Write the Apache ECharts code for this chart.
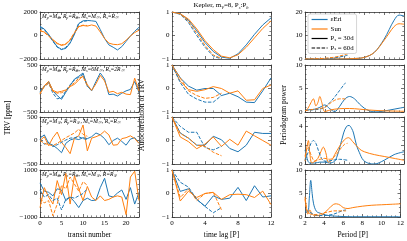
<!DOCTYPE html>
<html><head><meta charset="utf-8">
<script src="https://cdn.jsdelivr.net/npm/echarts@6/dist/echarts.min.js"></script>
<style>html,body{margin:0;padding:0;background:#fff}#c{width:407px;height:241px}</style>
</head><body><div id="c"></div>
<script>
// ---------- data ----------
const transits30 = [0,1,2,3,4,5,6,7,8,9,10,11,12,13,14,15,16,17,18,19,20,21,22,23];
const transits60 = [0,1,2,3,4,5,6,7,8,9,10,11];
const lags30 = [0,1,2,3,4,5,6,7,8,9,10,11,12];
const lags60 = [0,1,2,3,4,5,6];

// column 1: TRV [ppm]
const trv_r1_blue_30 = [780,550,100,-450,-950,-1180,-1100,-650,100,1000,1250,1280,1250,1200,500,-250,-800,-1000,-1230,-950,-500,-50,350,700];
const trv_r1_orange_30 = [400,300,0,-350,-650,-850,-750,-400,200,750,850,800,900,800,300,-250,-650,-750,-780,-700,-400,-50,250,450];
const trv_r1_blue_60 = [700,500,50,-500,-1000,-1200,-1000,-600,150,1050,1200,1250];
const trv_r1_orange_60 = [450,250,-50,-400,-700,-800,-700,-350,250,800,880,850];

const trv_r2_blue_30 = [-60,50,150,-50,-150,-230,-80,60,200,260,330,50,-50,150,330,200,-130,-120,-160,-100,-50,-20,150,-80];
const trv_r2_orange_30 = [-120,60,150,-40,-80,-60,-30,40,90,180,270,80,-40,100,280,160,-80,-60,-110,-80,-120,-130,220,-60];
const trv_r2_blue_60 = [-80,40,120,-100,-220,-200,-50,80,180,240,300,40];
const trv_r2_orange_60 = [-100,40,110,-60,-100,-90,-50,60,120,220,250,60];

const trv_r3_blue_30 = [50,120,-60,-100,-170,-260,-60,10,40,20,60,40,80,160,120,40,-90,0,50,-20,-100,30,60,-60];
const trv_r3_orange_30 = [0,80,-110,60,180,-40,-150,-280,50,100,330,-220,50,80,120,200,120,-100,-90,40,60,100,40,-60];
const trv_r3_blue_60 = [20,-80,-40,-130,-90,-40,10,50,60,80,40,20];
const trv_r3_orange_60 = [0,-60,-90,-110,-60,0,60,110,160,240,130,90];

const trv_r4_blue_30 = [450,100,50,-100,200,150,-300,-150,-350,-600,-300,-200,-300,-280,250,650,-100,-150,20,150,-250,250,-450,50];
const trv_r4_orange_30 = [-600,250,-150,-450,550,-50,850,-450,750,200,-300,300,-150,-300,-100,-300,-250,-150,-100,-150,-900,700,950,-300];
const trv_r4_blue_60 = [150,-150,-50,-300,-200,-700,-250,-150,-200,-100,0,200];
const trv_r4_orange_60 = [-200,-400,-300,-950,-450,350,200,700,400,100,500,350];

// column 2: autocorrelation
const acf_r1_blue_30 = [1,0.93,0.65,0.2,-0.3,-0.68,-0.92,-0.97,-0.78,-0.4,0.05,0.45,0.75];
const acf_r1_orange_30 = [1,0.92,0.7,0.28,-0.22,-0.6,-0.88,-0.95,-0.82,-0.5,-0.1,0.3,0.62];
const acf_r1_blue_60 = [1,0.9,0.55,0.0,-0.5,-0.88,-1.0];
const acf_r1_orange_60 = [1,0.92,0.6,0.1,-0.42,-0.83,-0.98];

const acf_r2_blue_30 = [1,0.45,0.1,-0.07,0.0,0.0,-0.3,-0.2,-0.35,-0.58,-0.6,-0.1,0.45];
const acf_r2_orange_30 = [1,0.3,-0.05,-0.12,-0.05,0.08,0.0,-0.2,-0.1,-0.5,-0.48,0.0,0.15];
const acf_r2_blue_60 = [1,0.25,-0.25,-0.45,-0.58,-0.58,-0.3];
const acf_r2_orange_60 = [1,0.45,-0.1,-0.3,-0.42,-0.38,-0.2];

const acf_r3_blue_30 = [1,0.32,0.1,-0.2,-0.2,0.18,0.03,-0.34,-0.48,-0.2,0.35,0.3,0.3];
const acf_r3_orange_30 = [1,0.15,-0.05,-0.35,-0.15,0.15,-0.25,0.05,-0.2,0.4,0.2,0.0,-0.2];
const acf_r3_blue_60 = [1,0.6,0.35,0.35,-0.3,-0.4,-0.25];
const acf_r3_orange_60 = [1,0.3,0.1,-0.2,-0.25,-0.5,-0.65];

const acf_r4_blue_30 = [1,0.09,0.2,-0.25,-0.54,-0.1,-0.25,-0.2,0.26,-0.3,0.33,-0.15,-0.1];
const acf_r4_orange_30 = [1,-0.32,0.1,-0.17,0.0,0.05,-0.25,-0.05,-0.03,-0.05,-0.17,0.1,-0.47];
const acf_r4_blue_60 = [1,0.48,0.27,-0.25,-0.55,-0.82,-0.6];
const acf_r4_orange_60 = [1,-0.17,0.2,-0.3,0.0,0.05,-0.7];

// column 3: periodogram (period [P], power)
const pg_r1_blue_30_P = [2,3,4,5,6,7,8,9,10,10.5,11,11.5,12];
const pg_r1_blue_30 = [0,0,0,0,0.05,0.2,0.7,2.8,8.5,12.5,16.5,18.7,18.3];
const pg_r1_orange_30_P = [2,3,4,5,6,7,8,9,10,10.5,11,11.5,12];
const pg_r1_orange_30 = [0,0,0,0,0.05,0.2,0.7,2.8,8,11,13.8,15,14.8];
const pg_r1_blue_60_P = [2,3,4,5,6,6.3];
const pg_r1_blue_60 = [0,0.05,0.2,0.5,1.3,1.6];
const pg_r1_orange_60_P = [2,3,4,5,6,6.3];
const pg_r1_orange_60 = [0,0.1,0.3,0.8,1.8,2.2];

const pg_r2_blue_30_P = [2,2.5,3,3.5,4,4.5,5,5.5,6,6.5,7,7.5,8,8.5,9,9.5,10,10.5,11,11.5,12];
const pg_r2_blue_30 = [0.4,0.5,0.6,1.0,1.5,0.7,0.1,1.2,2.7,3.3,2.8,1.7,0.8,0.25,0.02,0.05,0.2,0.4,0.6,0.8,1.0];
const pg_r2_orange_30_P = [2,2.3,2.6,2.85,3.1,3.3,3.5,3.7,4.0,4.5,5,6,7,8,9,10,11,12];
const pg_r2_orange_30 = [0.2,0.8,2.0,2.8,1.3,2.0,3.3,2.0,0.1,0.4,0.6,0.75,0.7,0.5,0.35,0.25,0.2,0.15];
const pg_r2_blue_60_P = [2,2.5,3,3.5,4,4.5,5,5.5,6,6.1];
const pg_r2_blue_60 = [0.3,0.4,0.5,0.6,1.0,2.0,3.2,4.6,6.0,6.2];
const pg_r2_orange_60_P = [2,3,4,4.5,5,5.5,6,6.1];
const pg_r2_orange_60 = [0.3,0.6,1.0,1.8,2.5,2.8,2.8,2.7];

const pg_r3_blue_30_P = [2,2.15,2.3,2.5,3,3.5,4,4.5,5,5.2,5.5,5.9,6.2,6.45,6.7,6.9,7.2,7.5,7.9,8.5,9,10,11,12];
const pg_r3_blue_30 = [1.5,0.9,0.3,0.1,0.1,0.2,0.2,0.1,0.3,0.7,1.7,3.3,4.0,4.1,3.8,3.3,2.0,1.2,0.4,0.05,0.0,0.4,1.0,1.3];
const pg_r3_orange_30_P = [2,2.15,2.34,2.5,2.7,3,3.3,3.6,3.85,4.1,4.36,4.7,5,5.5,6,6.4,6.8,7.5,8,9,10,11,12];
const pg_r3_orange_30 = [0.3,1.5,2.5,1.0,0.1,0.3,0.6,1.3,1.8,1.2,0.2,0.4,1.0,1.9,2.6,2.8,2.4,1.6,1.3,1.0,0.8,0.6,0.4];
const pg_r3_blue_60_P = [2,2.3,2.6,2.85,3.1,3.4,3.8,4.2,5,5.5,6,6.3];
const pg_r3_blue_60 = [0.4,1.2,2.2,2.5,2.2,1.3,0.4,0.3,0.45,0.5,0.45,0.4];
const pg_r3_orange_60_P = [2,2.3,2.6,3,3.5,4,4.5,5,5.5,6,6.3];
const pg_r3_orange_60 = [0.8,1.8,1.0,0.3,0.5,0.6,0.5,0.8,1.5,2.1,2.2];

const pg_r4_blue_30_P = [2,2.3,2.45,2.6,2.75,2.9,3.2,3.6,4,4.5,5,6,7,8,9,10,11,12];
const pg_r4_blue_30 = [1.0,1.1,4.0,7.8,5.0,2.8,1.2,0.8,0.5,0.3,0.2,0.1,0.05,0.05,0.05,0.05,0.05,0.05];
const pg_r4_orange_30_P = [2,2.15,2.3,2.5,2.7,3,3.5,4,4.5,5,5.3,5.7,6,6.5,7,8,9,10,11,12];
const pg_r4_orange_30 = [4.3,2.0,0.6,1.5,0.8,0.3,0.3,0.8,1.8,2.7,2.8,2.5,2.0,1.8,2.0,2.3,2.5,2.6,2.7,2.8];
const pg_r4_blue_60_P = [2,2.2,2.5,3,3.5,4,4.5,5,5.5,6,6.3];
const pg_r4_blue_60 = [1.2,1.3,1.0,0.5,0.3,0.3,0.4,0.6,1.0,1.4,1.5];
const pg_r4_orange_60_P = [2,2.2,2.5,3,3.5,4,4.5,5,5.5,6,6.3];
const pg_r4_orange_60 = [3.8,1.5,0.7,0.5,0.6,0.9,1.1,1.3,1.3,1.3,1.3];

const rowNotes = ['M_p=M_⊕, R_p=R_⊕, M_s=M_☉, R_s=R_☉','M_p=M_⊕, R_p=R_⊕, M_s=6M_☉, R_s=2R_☉','M_p=M_♃, R_p=R_♃, M_s=M_☉, R_s=R_☉','M_p=M_⊕, R_p=R_⊕, M_s=M_♃, R=R_♃'];
const legendNames = ['εEri','Sun','P_s = 30d','P_s = 60d'];

// ---------- layout / style ----------
const FONT = 'Liberation Serif';
const BLUE = '#1f77b4', ORANGE = '#ff7f0e', AX = '#333';
const colLeft = [40,172,305], colW = 99;
const rowTop = [12,65,117,170], rowH = 47;

const colX = [
  {min:0,max:23,interval:5,minor:5,name:'transit number'},
  {min:0,max:12,interval:4,minor:4,name:'time lag [P]'},
  {min:2,max:12,interval:2,minor:4,name:'Period [P]'}
];
const colY = [
  [{min:-2000,max:2000,interval:2000,minor:4},{min:-500,max:500,interval:500,minor:5},{min:-500,max:500,interval:500,minor:5},{min:-1000,max:1000,interval:1000,minor:5}],
  [{min:-1,max:1,interval:1,minor:5},{min:-1,max:1,interval:1,minor:5},{min:-1,max:1,interval:1,minor:5},{min:-1,max:1,interval:1,minor:5}],
  [{min:0,max:20,interval:10,minor:5},{min:0,max:10,interval:5,minor:5},{min:0,max:5,interval:2,minor:4},{min:0,max:10,interval:5,minor:5}]
];

function fmt(interval){
  return v => {
    const k = v/interval;
    if (Math.abs(k-Math.round(k))>1e-9) return '';
    return String(v).replace('-','−');
  };
}
function pairs(xs, ys){ return ys.map((y,i)=>[xs[i], y]); }
function rich(str){
  return str.replace(/_([^\s,=:]+)/g, (m,s)=>'{s|'+s+'}');
}

const grids=[], xAxes=[], yAxes=[], series=[];
for (let c=0;c<3;c++){
  for (let r=0;r<4;r++){
    const gi = c*4+r;
    grids.push({left:colLeft[c], top:rowTop[r], width:colW, height:rowH});
    const X = colX[c], Y = colY[c][r];
    const lineCfg = {show:true,onZero:false,lineStyle:{color:AX,width:0.8}};
    const tickCfg = {show:true,inside:true,length:3,lineStyle:{color:AX,width:0.7}};
    const mtick = n => ({show:true,splitNumber:n,length:1.6,lineStyle:{color:AX,width:0.6}});
    xAxes.push({type:'value',gridIndex:gi,position:'bottom',min:X.min,max:X.max,interval:X.interval,
      axisLine:lineCfg,axisTick:tickCfg,minorTick:mtick(X.minor),splitLine:{show:false},
      axisLabel:{show:r===3,margin:3,fontFamily:FONT,fontSize:7,color:'#000',formatter:fmt(X.interval)},
      name:r===3?X.name:'',nameLocation:'middle',nameGap:14,nameTextStyle:{fontFamily:FONT,fontSize:7.5,color:'#000'}});
    xAxes.push({type:'value',gridIndex:gi,position:'top',min:X.min,max:X.max,interval:X.interval,
      axisLine:lineCfg,axisTick:tickCfg,minorTick:mtick(X.minor),splitLine:{show:false},axisLabel:{show:false}});
    yAxes.push({type:'value',gridIndex:gi,position:'left',min:Y.min,max:Y.max,interval:Y.interval,
      axisLine:lineCfg,axisTick:tickCfg,minorTick:mtick(Y.minor),splitLine:{show:false},
      axisLabel:{show:true,margin:2.5,fontFamily:FONT,fontSize:7,color:'#000',formatter:fmt(Y.interval)}});
    yAxes.push({type:'value',gridIndex:gi,position:'right',min:Y.min,max:Y.max,interval:Y.interval,
      axisLine:lineCfg,axisTick:tickCfg,minorTick:mtick(Y.minor),splitLine:{show:false},axisLabel:{show:false}});
  }
}

function addLine(gi, name, data, color, dashed, smooth){
  series.push({type:'line',name:name,xAxisIndex:2*gi,yAxisIndex:2*gi,data:data,
    symbol:'none',showSymbol:false,smooth:smooth?0.35:false,animation:false,silent:true,
    lineStyle:{color:color,width:1,type:dashed?[3.5,1.5]:'solid'},itemStyle:{color:color}});
}

const trv = [
  [trv_r1_blue_30,trv_r1_orange_30,trv_r1_blue_60,trv_r1_orange_60],
  [trv_r2_blue_30,trv_r2_orange_30,trv_r2_blue_60,trv_r2_orange_60],
  [trv_r3_blue_30,trv_r3_orange_30,trv_r3_blue_60,trv_r3_orange_60],
  [trv_r4_blue_30,trv_r4_orange_30,trv_r4_blue_60,trv_r4_orange_60]
];
const acf = [
  [acf_r1_blue_30,acf_r1_orange_30,acf_r1_blue_60,acf_r1_orange_60],
  [acf_r2_blue_30,acf_r2_orange_30,acf_r2_blue_60,acf_r2_orange_60],
  [acf_r3_blue_30,acf_r3_orange_30,acf_r3_blue_60,acf_r3_orange_60],
  [acf_r4_blue_30,acf_r4_orange_30,acf_r4_blue_60,acf_r4_orange_60]
];
const pg = [
  [[pg_r1_blue_30_P,pg_r1_blue_30],[pg_r1_orange_30_P,pg_r1_orange_30],[pg_r1_blue_60_P,pg_r1_blue_60],[pg_r1_orange_60_P,pg_r1_orange_60]],
  [[pg_r2_blue_30_P,pg_r2_blue_30],[pg_r2_orange_30_P,pg_r2_orange_30],[pg_r2_blue_60_P,pg_r2_blue_60],[pg_r2_orange_60_P,pg_r2_orange_60]],
  [[pg_r3_blue_30_P,pg_r3_blue_30],[pg_r3_orange_30_P,pg_r3_orange_30],[pg_r3_blue_60_P,pg_r3_blue_60],[pg_r3_orange_60_P,pg_r3_orange_60]],
  [[pg_r4_blue_30_P,pg_r4_blue_30],[pg_r4_orange_30_P,pg_r4_orange_30],[pg_r4_blue_60_P,pg_r4_blue_60],[pg_r4_orange_60_P,pg_r4_orange_60]]
];
const cols = [BLUE, ORANGE, BLUE, ORANGE];
const names = [legendNames[0], legendNames[1], legendNames[0]+' ', legendNames[1]+' '];
for (let r=0;r<4;r++){
  for (let k=0;k<4;k++){
    const dashed = k>=2;
    addLine(0*4+r, names[k], pairs(dashed?transits60:transits30, trv[r][k]), cols[k], dashed, false);
    addLine(1*4+r, names[k], pairs(dashed?lags60:lags30, acf[r][k]), cols[k], dashed, false);
    addLine(2*4+r, names[k], pairs(pg[r][k][0], pg[r][k][1]), cols[k], dashed, true);
  }
}
// legend-only entries
addLine(8, legendNames[2], [], '#000', false, false);
addLine(8, legendNames[3], [], '#000', true, false);

const subStyle = {fontFamily:FONT,fontSize:4.5,fontStyle:'italic',verticalAlign:'bottom',padding:[0,0,-2,0]};
const graphics = [
  {type:'text',x:8,y:118,rotation:Math.PI/2,style:{text:'TRV [ppm]',fontFamily:FONT,fontSize:7.5,fill:'#000',align:'center',verticalAlign:'middle'}},
  {type:'text',x:142,y:115,rotation:Math.PI/2,style:{text:'Autocorrelation of TRV',fontFamily:FONT,fontSize:7.5,fill:'#000',align:'center',verticalAlign:'middle'}},
  {type:'text',x:284,y:115,rotation:Math.PI/2,style:{text:'Periodogram power',fontFamily:FONT,fontSize:7.5,fill:'#000',align:'center',verticalAlign:'middle'}},
  {type:'text',x:221,y:5,style:{text:rich('Kepler, m_V=8, P_s:P_b'),fontFamily:FONT,fontSize:7,fill:'#000',align:'center',verticalAlign:'middle',rich:{s:subStyle}}}
];
for (let r=0;r<4;r++){
  graphics.push({type:'text',x:42,y:rowTop[r]+5,style:{text:rich(rowNotes[r]),fontFamily:FONT,fontSize:5.6,fontStyle:'italic',fill:'#000',align:'left',verticalAlign:'middle',rich:{s:{fontFamily:FONT,fontSize:4,fontStyle:'italic',verticalAlign:'bottom'}}}});
}

const chart = echarts.init(document.getElementById('c'), null, {renderer:'canvas'});
chart.setOption({
  animation:false,
  grid:grids, xAxis:xAxes, yAxis:yAxes, series:series,
  legend:{data:legendNames,orient:'vertical',left:308,top:14,itemWidth:16,itemHeight:6,itemGap:2.5,
    padding:[2,3,2,3],borderColor:'#ccc',borderWidth:0.8,borderRadius:2,backgroundColor:'rgba(255,255,255,0.85)',
    selectedMode:false,formatter:n=>rich(n),itemStyle:{opacity:0},lineStyle:{width:1.2},
    textStyle:{fontFamily:FONT,fontSize:6.8,color:'#000',padding:[0,0,0,-2],rich:{s:{fontFamily:FONT,fontSize:4.5,verticalAlign:'bottom'}}}},
  graphic:graphics
});
</script></body></html>
